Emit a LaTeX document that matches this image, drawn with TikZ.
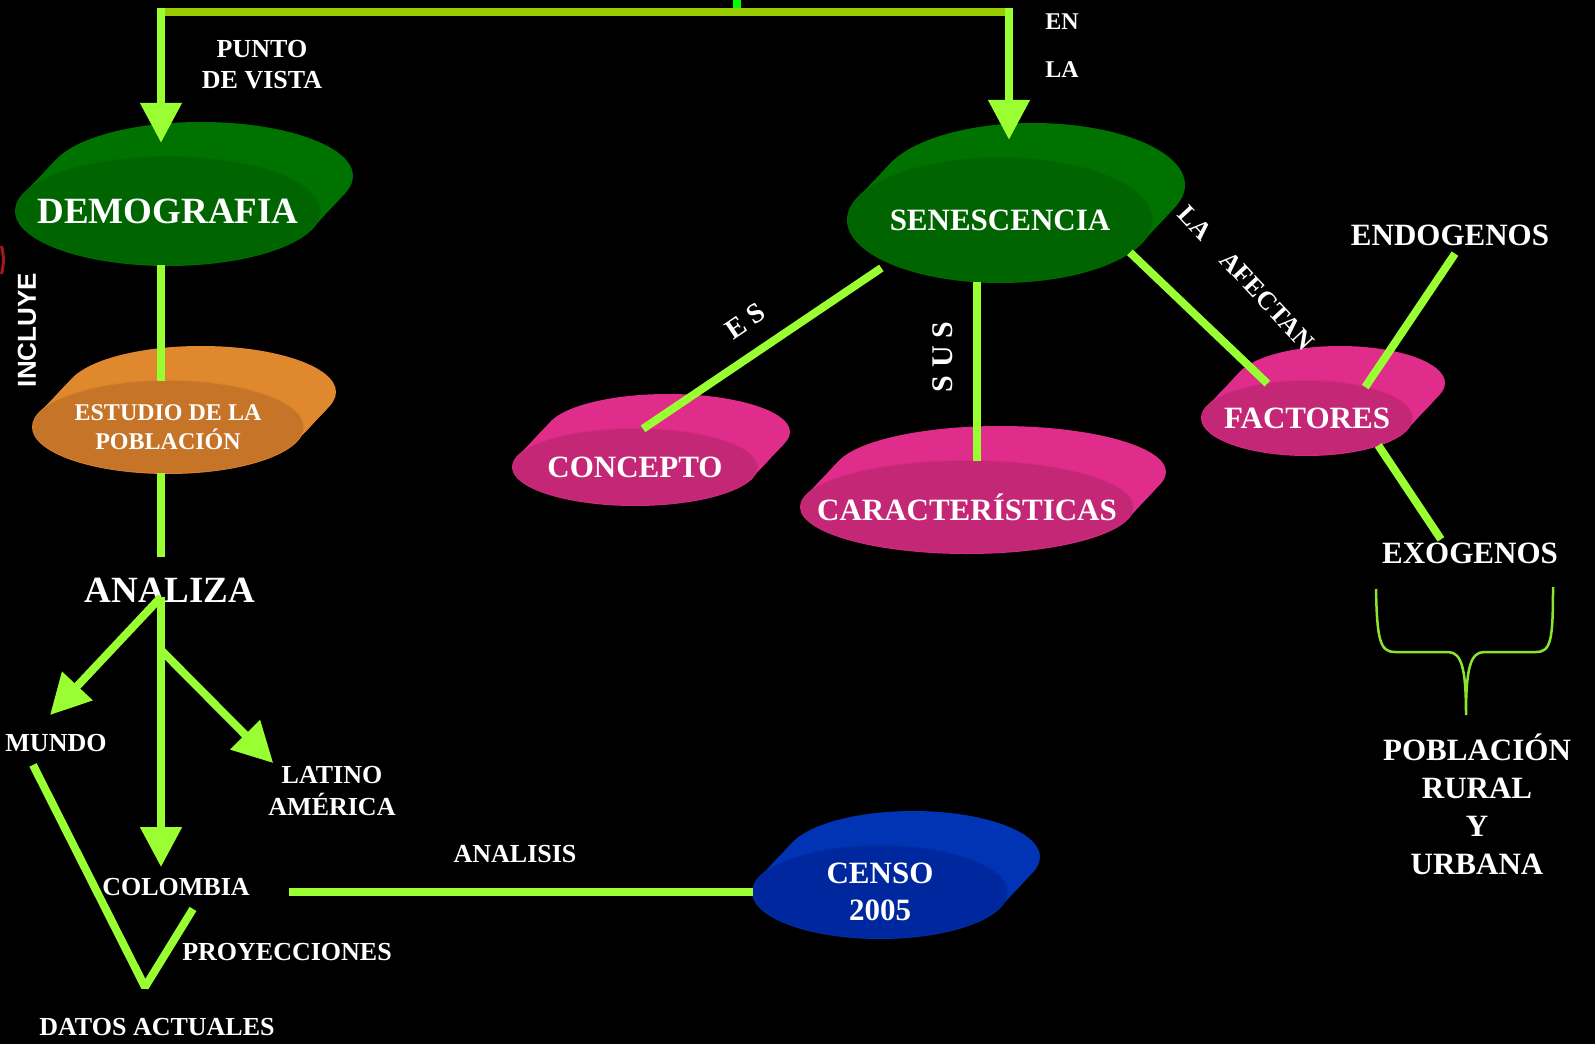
\documentclass[tikz,border=0pt]{standalone}
\usepackage{fontspec}
\setmainfont{Liberation Serif}
\newfontfamily\arialbold{Liberation Sans}
\usetikzlibrary{arrows.meta, shapes.geometric, calc}

\definecolor{lima}{HTML}{99FF33}
\definecolor{olivo}{HTML}{99CC00}
\definecolor{verdepuro}{HTML}{00FF00}
\definecolor{verdeA}{RGB}{0,114,0}
\definecolor{verdeB}{RGB}{0,100,0}
\definecolor{naranjaA}{HTML}{E0882E}
\definecolor{naranjaB}{HTML}{C67428}
\definecolor{rosaA}{HTML}{E02C8A}
\definecolor{rosaB}{HTML}{C42775}
\definecolor{azulA}{HTML}{0034B4}
\definecolor{azulB}{HTML}{00289E}
\definecolor{rojo}{HTML}{A01818}

\tikzset{
  link/.style={draw=lima, line width=8pt},
  arr/.style={link, -{Triangle[length=40pt,width=40pt]}},
  lbl/.style={text=white, align=center, inner sep=3pt, font=\fontsize{26}{31}\selectfont\bfseries},
  lblbig/.style={lbl, font=\fontsize{31}{38}\selectfont\bfseries},
  face/.style={ellipse, inner sep=0pt, draw=none},
  facetext/.style={text=white, align=center, inner sep=0pt},
}

% disco: name, x, y, rx, ry, back colour, front colour, text, font size
\newcommand{\disco}[9]{%
  \foreach \k in {0,...,20}{%
    \fill[#6] ({#2+1.65*\k},{#3-1.75*\k}) ellipse ({#4} and {#5});
  }
  \fill[#6!60!#7] (#2,#3) ellipse ({#4+1} and {#5+1});
  \node[face, fill=#7, minimum width={2*#4}, minimum height={2*#5},
        label={[facetext, font=#9\selectfont\bfseries]center:{#8}}] (#1) at (#2,#3) {};
}

\begin{document}
\begin{tikzpicture}[x=1pt, y=-1pt, line join=bevel]
\useasboundingbox (0,0) rectangle (1595,1044);
\fill[black] (0,0) rectangle (1595,1044);

%% discos
\disco{demo}{168}{211}{152}{54}{verdeA}{verdeB}{DEMOGRAFIA}{\fontsize{37}{44}}
\disco{estu}{168}{427}{135}{46}{naranjaA}{naranjaB}{ESTUDIO DE LA\\POBLACIÓN}{\fontsize{24}{29}}
\disco{sene}{1000}{220}{152}{62}{verdeA}{verdeB}{SENESCENCIA}{\fontsize{31}{37}}
\disco{conc}{635}{467}{122}{38}{rosaA}{rosaB}{CONCEPTO}{\fontsize{31}{37}}
\disco{cara}{967}{507}{166}{46}{rosaA}{rosaB}{CARACTERÍSTICAS}{\fontsize{31}{37}}
\disco{fact}{1307}{418}{105}{37}{rosaA}{rosaB}{FACTORES}{\fontsize{31}{37}}
\disco{censo}{880}{892}{127}{46}{azulA}{azulB}{CENSO\\2005}{\fontsize{31}{37}}

%% textos
\node[lbl] (punto) at (262,65) {PUNTO\\DE VISTA};
\node[lbl, font=\fontsize{24}{29}\selectfont\bfseries] (en) at (1062,22) {EN};
\node[lbl, font=\fontsize{24}{29}\selectfont\bfseries] (la) at (1062,70) {LA};
\node[lbl, rotate=90, font=\fontsize{26}{31}\selectfont\arialbold\bfseries] (incl) at (27,330) {INCLUYE};
\node[lbl, font=\fontsize{37}{44}\selectfont\bfseries] (ana) at (170,590) {ANALIZA};
\node[lbl] (mundo) at (56,743) {MUNDO};
\node[lbl, font=\fontsize{26}{32}\selectfont\bfseries] (latino) at (332,791) {LATINO\\AMÉRICA};
\node[lbl] (colo) at (176,887) {COLOMBIA};
\node[lbl] (proy) at (287,952) {PROYECCIONES};
\node[lbl] (datos) at (157,1027) {DATOS ACTUALES};
\node[lbl] (analisis) at (515,854) {ANALISIS};
\node[lbl, rotate=34, font=\fontsize{28}{33}\selectfont\bfseries] (es) at (745,321) {E S};
\node[lbl, rotate=90, font=\fontsize{30}{36}\selectfont\bfseries] (sus) at (943,357) {S U S};
\node[lbl, rotate=-47, inner sep=0pt] (afectan) at (1246,278) {LA\hspace{26pt}AFECTAN};
\node[lblbig] (endo) at (1450,235) {ENDOGENOS};
\node[lblbig] (exo) at (1470,553) {EXOGENOS};
\node[lblbig] (pob) at (1477,804) {POBLACIÓN\\RURAL\\Y\\URBANA};

%% conectores
\coordinate (stub) at (737,0);
\coordinate (topL) at (161,12);
\coordinate (topR) at (1009,12);
\coordinate (spine) at (161,597);
\coordinate (vtx) at (145,987);

\draw[line width=8pt, draw=verdepuro] (stub) -- (stub |- topL);
\draw[line width=8pt, draw=olivo] (topL) -- (topR);
\draw[arr] ($(topL)+(0,-4)$) -- ($(demo.north -| topL)+(0,-14)$);
\draw[arr] ($(topR)+(0,-4)$) -- ($(sene.north -| topR)+(0,-18)$);

\draw[link] (demo.south -| spine) -- (estu.north -| spine);
\draw[link] (estu.south -| spine) -- ($(ana.north -| spine)+(0,-18)$);
\draw[arr] (spine) -- ($(colo.north -| spine)+(0,-8)$);
\draw[arr] (spine) -- ($(mundo.north)+(-6,-16)$);
\draw[arr] ($(spine)+(0,53)$) -- ($(latino.north west)+(8,0)$);
\draw[link] ($(colo.east |- censo.west)+(36,0)$) -- (censo.west);
\draw[link] ($(mundo.south)+(-23,10)$) -- (vtx) -- ($(colo.south)+(17,10)$);

\draw[link] ($(sene.south west)+(-11,4)$) -- ($(conc.north)+(8,0)$);
\draw[link] ($(sene.south)+(-23,0)$) -- ($(sene.south |- cara.north)+(-23,0)$);
\draw[link] (sene.-14) -- (fact.139);
\draw[link] ($(endo.south)+(5,5)$) -- (fact.28);
\draw[link] (fact.-21) -- ($(exo.north)+(-29,0)$);

%% llave
\draw[lima!90!black, line width=2.5pt] (1376,589) .. controls (1377,640) and (1380,652) .. (1395,652)
  -- (1448,652) .. controls (1462,652) and (1466,670) .. (1466,715)
  .. controls (1466,670) and (1470,652) .. (1484,652) -- (1536,652)
  .. controls (1551,652) and (1553,640) .. (1553,587);

% borde rojo a la izquierda
\draw[rojo, line width=3pt] (1.5,246) .. controls (4,256) and (4,264) .. (1.5,274);
\end{tikzpicture}
\end{document}
